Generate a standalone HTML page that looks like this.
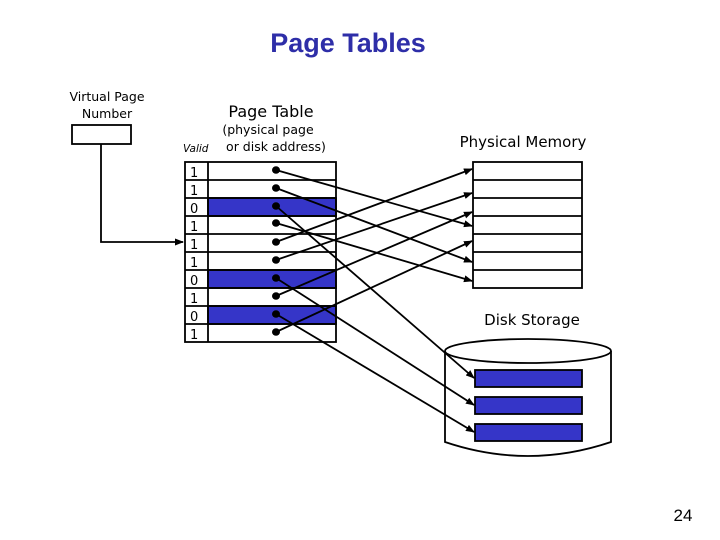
<!DOCTYPE html>
<html><head><meta charset="utf-8"><style>
html,body{margin:0;padding:0;background:#fff;}
svg{display:block;}
.c{font-family:"DejaVu Sans","Liberation Sans",sans-serif;}
</style></head><body>
<svg width="720" height="540" viewBox="0 0 720 540" xmlns="http://www.w3.org/2000/svg">
<defs>
<marker id="a" markerWidth="9" markerHeight="8" refX="8" refY="4" orient="auto" markerUnits="userSpaceOnUse">
<path d="M0,0.5 L9,4 L0,7.5 Z" fill="#000"/></marker>
</defs>
<rect width="720" height="540" fill="#fff"/>
<text x="348" y="52" text-anchor="middle" font-family="Liberation Sans" font-weight="bold" font-size="27" fill="#2e2ea8">Page Tables</text>
<text x="107" y="101" text-anchor="middle" class="c" font-size="12.5">Virtual Page</text>
<text x="107" y="118" text-anchor="middle" class="c" font-size="12.5">Number</text>
<rect x="72" y="125" width="59" height="19" fill="#fff" stroke="#000" stroke-width="1.8"/>
<polyline points="101,144 101,242 183,242" fill="none" stroke="#000" stroke-width="1.8" marker-end="url(#a)"/>
<text x="271" y="117" text-anchor="middle" class="c" font-size="16">Page Table</text>
<text x="268" y="134" text-anchor="middle" class="c" font-size="12.5">(physical page</text>
<text x="276" y="151" text-anchor="middle" class="c" font-size="12.5">or disk address)</text>
<text x="183" y="152" class="c" font-size="10.5" font-style="italic">Valid</text>
<g stroke="#000" stroke-width="1.8">
<rect x="208" y="198" width="128" height="18" fill="#3535c8"/>
<rect x="208" y="270" width="128" height="18" fill="#3535c8"/>
<rect x="208" y="306" width="128" height="18" fill="#3535c8"/>
<rect x="185" y="162" width="151" height="180" fill="none"/>
<line x1="208" y1="162" x2="208" y2="342"/>
<line x1="185" y1="180" x2="336" y2="180"/><line x1="185" y1="198" x2="336" y2="198"/>
<line x1="185" y1="216" x2="336" y2="216"/><line x1="185" y1="234" x2="336" y2="234"/>
<line x1="185" y1="252" x2="336" y2="252"/><line x1="185" y1="270" x2="336" y2="270"/>
<line x1="185" y1="288" x2="336" y2="288"/><line x1="185" y1="306" x2="336" y2="306"/>
<line x1="185" y1="324" x2="336" y2="324"/>
</g>
<g class="c" font-size="13" fill="#000">
<text x="190" y="177">1</text><text x="190" y="195">1</text><text x="190" y="213">0</text>
<text x="190" y="231">1</text><text x="190" y="249">1</text><text x="190" y="267">1</text>
<text x="190" y="285">0</text><text x="190" y="303">1</text><text x="190" y="321">0</text>
<text x="190" y="339">1</text>
</g>
<text x="523" y="147" text-anchor="middle" class="c" font-size="15">Physical Memory</text>
<g stroke="#000" stroke-width="1.8" fill="none">
<rect x="473" y="162" width="109" height="126" fill="#fff"/>
<line x1="473" y1="180" x2="582" y2="180"/><line x1="473" y1="198" x2="582" y2="198"/>
<line x1="473" y1="216" x2="582" y2="216"/><line x1="473" y1="234" x2="582" y2="234"/>
<line x1="473" y1="252" x2="582" y2="252"/><line x1="473" y1="270" x2="582" y2="270"/>
</g>
<text x="532" y="325" text-anchor="middle" class="c" font-size="15">Disk Storage</text>
<g stroke="#000" stroke-width="1.8">
<path d="M445,351 L445,442 Q528,470 611,442 L611,351" fill="#fff"/>
<ellipse cx="528" cy="351" rx="83" ry="12" fill="#fff"/>
<rect x="475" y="370" width="107" height="17" fill="#3535c8"/>
<rect x="475" y="397" width="107" height="17" fill="#3535c8"/>
<rect x="475" y="424" width="107" height="17" fill="#3535c8"/>
</g>
<g stroke="#000" stroke-width="1.8" fill="none" marker-end="url(#a)">
<line x1="276" y1="170" x2="472" y2="226"/>
<line x1="276" y1="188" x2="472" y2="262"/>
<line x1="276" y1="223" x2="472" y2="281"/>
<line x1="276" y1="242" x2="472" y2="169"/>
<line x1="276" y1="260" x2="472" y2="193"/>
<line x1="276" y1="296" x2="472" y2="212"/>
<line x1="276" y1="332" x2="472" y2="241"/>
<line x1="276" y1="206" x2="474" y2="378"/>
<line x1="276" y1="278" x2="474" y2="405"/>
<line x1="276" y1="314" x2="474" y2="432"/>
</g>
<g fill="#000">
<ellipse cx="276" cy="170" rx="4" ry="3.7"/><ellipse cx="276" cy="188" rx="4" ry="3.7"/><ellipse cx="276" cy="206" rx="4" ry="3.7"/>
<ellipse cx="276" cy="223" rx="4" ry="3.7"/><ellipse cx="276" cy="242" rx="4" ry="3.7"/><ellipse cx="276" cy="260" rx="4" ry="3.7"/>
<ellipse cx="276" cy="278" rx="4" ry="3.7"/><ellipse cx="276" cy="296" rx="4" ry="3.7"/><ellipse cx="276" cy="314" rx="4" ry="3.7"/>
<ellipse cx="276" cy="332" rx="4" ry="3.7"/>
</g>
<text x="683" y="521" text-anchor="middle" font-family="Liberation Sans" font-size="17">24</text>
</svg>
</body></html>
